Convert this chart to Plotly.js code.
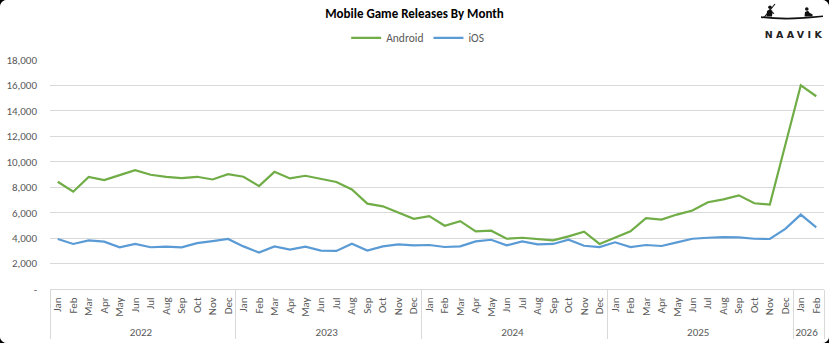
<!DOCTYPE html>
<html>
<head>
<meta charset="utf-8">
<script src="https://cdn.plot.ly/plotly-3.0.1.min.js"></script>
<style>
  html, body { margin: 0; padding: 0; background: #000; }
  #wrap { position: relative; width: 829px; height: 343px; background: #fff; border-radius: 7px; overflow: hidden; }
  #chart { width: 829px; height: 343px; }
  #logo { position: absolute; left: 758px; top: 2px; width: 68px; height: 40px; }
  #logo .txt { position: absolute; left: 0; top: 27px; width: 68px; text-align: center;
    font-family: "DejaVu Sans", sans-serif; font-size: 9.5px; font-weight: bold; letter-spacing: 3.4px; color: #222; padding-left: 3px; }
</style>
</head>
<body>
<div id="wrap">
  <div id="chart"></div>
  <div id="logo">
    <svg width="68" height="24" viewBox="0 0 68 24" style="position:absolute;left:0;top:0">
      <path d="M3 14.2 Q 30 17.5 65 13.6 L 65 15 Q 30 19.2 3 16 Z" fill="#111"/>
      <path d="M8.5 14.5 L 9 9 L 12 7 L 14.5 9 L 14 14.5 Z" fill="#111"/>
      <circle cx="12" cy="5.3" r="1.8" fill="#111"/>
      <path d="M6 15.5 L 17 2" stroke="#111" stroke-width="1.1"/>
      <path d="M12 9.5 L 16 11.5" stroke="#111" stroke-width="1.1"/>
      <path d="M46.5 14.5 L 47 10 L 50 8.8 L 51.8 11 L 54.5 12.3 L 54.5 14.5 Z" fill="#111"/>
      <circle cx="48.8" cy="7" r="1.8" fill="#111"/>
    </svg>
    <div class="txt">NAAVIK</div>
  </div>
</div>
<script>
  // ---- data ----
  const years = ['2022', '2023', '2024', '2025', '2026'];
  const monthNames = ['Jan','Feb','Mar','Apr','May','Jun','Jul','Aug','Sep','Oct','Nov','Dec'];
  const monthsPerYear = [12, 12, 12, 12, 2];

  const android = [
    8430, 7650, 8800, 8560, 8950, 9340, 8980, 8820, 8720, 8820, 8610, 9030,
    8820, 8090, 9210, 8690, 8900, 8640, 8410, 7830, 6710, 6500, 6040, 5520,
    5730, 4970, 5330, 4530, 4580, 3950, 4030, 3930, 3820, 4140, 4500, 3540,
    4010, 4530, 5570, 5460, 5850, 6170, 6820, 7050, 7360, 6740, 6630, 11300,
    16010, 15150
  ];
  const ios = [
    3930, 3540, 3820, 3720, 3280, 3540, 3280, 3330, 3280, 3610, 3770, 3930,
    3350, 2860, 3350, 3090, 3330, 3020, 2990, 3560, 3020, 3350, 3510, 3430,
    3460, 3300, 3350, 3740, 3870, 3430, 3740, 3510, 3540, 3870, 3400, 3300,
    3670, 3300, 3460, 3380, 3670, 3950, 4030, 4080, 4060, 3950, 3930, 4730,
    5850, 4840
  ];
  const yTicks = [0, 2000, 4000, 6000, 8000, 10000, 12000, 14000, 16000, 18000];

  // ---- build multicategory x ----
  const xYear = [], xMonth = [];
  years.forEach((y, i) => {
    for (let m = 0; m < monthsPerYear[i]; m++) { xYear.push(y); xMonth.push(monthNames[m]); }
  });
  const nCats = xMonth.length;
  const yTickText = yTicks.map(v => v === 0 ? '-' : v.toLocaleString('en-US'));

  const FONT = "Carlito, 'Liberation Sans Narrow', 'Liberation Sans', Arial, sans-serif";
  const GRAY = '#595959';

  const traces = [
    { x: [xYear, xMonth], y: android, name: 'Android', type: 'scatter', mode: 'lines',
      line: { color: '#70ad47', width: 2.2 } },
    { x: [xYear, xMonth], y: ios, name: 'iOS', type: 'scatter', mode: 'lines',
      line: { color: '#5b9bd5', width: 2.2 } }
  ];

  const layout = {
    width: 829, height: 343,
    margin: { l: 50, r: 5, t: 60, b: 54 },
    paper_bgcolor: '#fff', plot_bgcolor: '#fff',
    font: { family: FONT, color: GRAY, size: 11 },
    title: { text: '<b>Mobile Game Releases By Month</b>', font: { family: FONT, size: 13, color: '#000' },
      x: 0.5, xanchor: 'center', y: 0.962, yref: 'container', yanchor: 'middle' },
    showlegend: true,
    legend: { orientation: 'h', x: 0.475, xanchor: 'center', y: 1.097, yanchor: 'middle',
      font: { family: FONT, size: 11.5, color: GRAY }, itemwidth: 30, tracegroupgap: 0 },
    xaxis: {
      type: 'multicategory', tickangle: -90, showgrid: false,
      range: [-0.5, nCats - 0.5],
      showline: true, linecolor: '#d9d9d9', linewidth: 1,
      showdividers: true, dividercolor: '#d9d9d9', dividerwidth: 1,
      tickfont: { family: FONT, size: 11, color: GRAY },
      ticks: '', ticklabelstandoff: 3, fixedrange: true
    },
    yaxis: {
      range: [0, 18000], tickvals: yTicks, ticktext: yTickText,
      showgrid: true, gridcolor: '#d9d9d9', gridwidth: 1, zeroline: false,
      tickfont: { family: FONT, size: 11, color: GRAY },
      ticklabelstandoff: 12, showline: false
    }
  };

  Plotly.newPlot('chart', traces, layout, { displayModeBar: false, staticPlot: true });
</script>
</body>
</html>
